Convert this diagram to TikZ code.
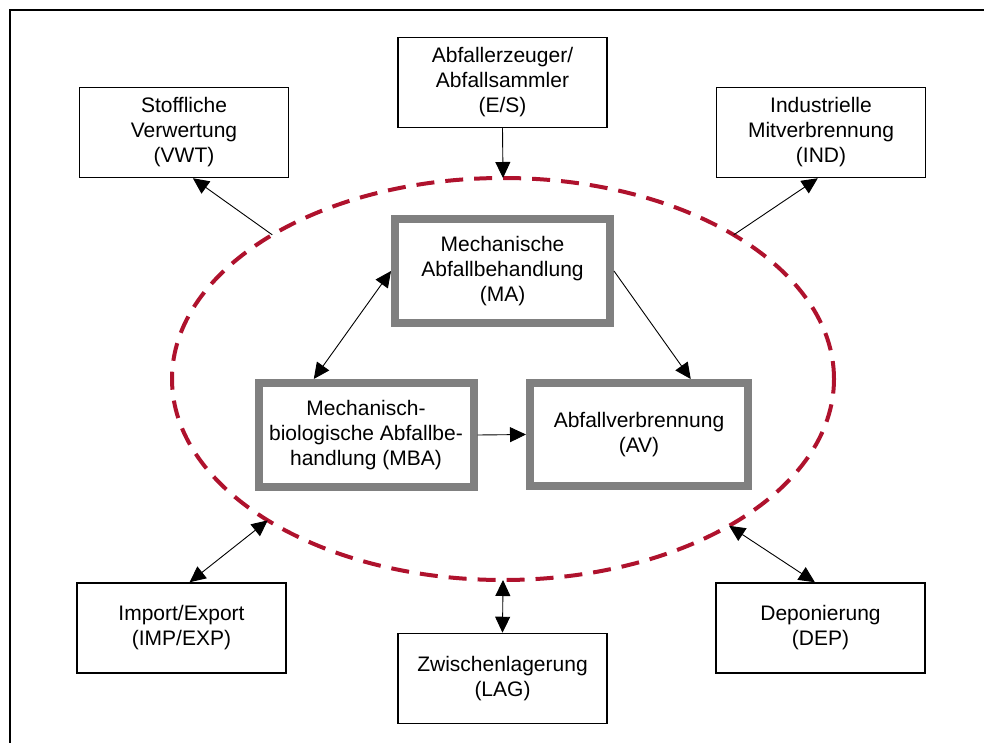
\documentclass[tikz,border=0pt]{standalone}
\usepackage{fontspec}
\setmainfont{Liberation Sans}
\usepackage{xcolor}
\usepackage{tikz}
\usetikzlibrary{shapes.geometric, arrows.meta, positioning}

\definecolor{dashred}{RGB}{175,18,45}
\definecolor{boxgray}{RGB}{128,128,128}

\begin{document}
\begin{tikzpicture}[x=1pt, y=-1pt,
  box/.style={draw, line width=1.5pt, minimum width=209pt, minimum height=90pt,
    align=center, inner sep=0pt, font=\fontsize{21}{25}\selectfont},
  corebox/.style={draw=boxgray, line width=8pt, minimum width=215pt, minimum height=104pt,
    align=center, inner sep=0pt, font=\fontsize{21}{25}\selectfont},
  flow/.style={line width=0.9pt, -{Triangle[length=16pt,width=15pt]}},
  flowboth/.style={line width=0.9pt, {Triangle[length=16pt,width=15pt]}-{Triangle[length=16pt,width=15pt]}}]
\useasboundingbox (0,0) rectangle (984,743);
% Frame
\draw[line width=2pt] (10,743) -- (10,10) -- (984,10);

% System boundary
\node[ellipse, draw=dashred, line width=4pt, dash pattern=on 18pt off 11pt,
  minimum width=662pt, minimum height=402pt, inner sep=0pt, outer sep=0pt] (sys) at (503,379) {};

% Outer boxes
\node[box] (es) at (502.5,82.5) {Abfallerzeuger/\\Abfallsammler\\(E/S)};
\node[box] (vwt) at (184,132.5) {Stoffliche\\Verwertung\\(VWT)};
\node[box] (ind) at (821,132.5) {Industrielle\\Mitverbrennung\\(IND)};
\node[box] (imp) at (181.5,628) {Import/Export\\(IMP/EXP)};
\node[box] (lag) at (502.5,678.5) {Zwischenlagerung\\(LAG)};
\node[box] (dep) at (820.5,628) {Deponierung\\(DEP)};

% Treatment plants
\node[corebox] (ma) at (502.5,271) {Mechanische\\Abfallbehandlung\\(MA)};
\node[corebox] (mba) at (366,435) {Mechanisch-\\biologische Abfallbe-\\handlung (MBA)};
\node[corebox, minimum width=218pt, minimum height=103pt] (av) at (639,434.5) {Abfallverbrennung\\(AV)};

% Flows
\draw[flow] (es.south) -- (sys.north);
\draw[flow] (sys.148.5) -- (vwt.-79);
\draw[flow] (sys.32.5) -- (ind.-94);
\draw[flowboth] (sys.211.7) -- (imp.80);
\draw[flowboth] (sys.south) -- (lag.north);
\draw[flowboth] (sys.327.7) -- (dep.97);
\draw[flowboth] (mba.133) -- (ma.west);
\draw[flow] (ma.east) -- (av.47);
\draw[flow] (mba.east) -- (av.west);
\end{tikzpicture}
\end{document}
